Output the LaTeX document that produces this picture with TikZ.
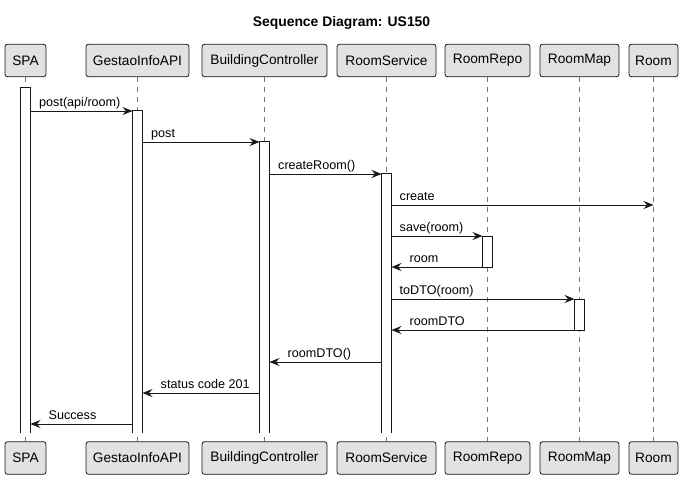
\documentclass[tikz,border=0pt]{standalone}
\usepackage{fontspec}
\setmainfont{Liberation Sans}
\usetikzlibrary{arrows.meta}
\definecolor{boxfill}{HTML}{E2E2E2}
\definecolor{ink}{HTML}{181818}
\tikzset{
  part/.style={draw=ink, fill=boxfill, rounded corners=2.5pt, line width=0.8pt,
    minimum height=32.5pt, inner sep=0pt, font=\fontsize{13.7}{16}\selectfont},
  life/.style={draw=ink!60, line width=0.7pt, dash pattern=on 5pt off 5pt},
  actbar/.style={draw=ink, fill=white, line width=0.9pt, minimum width=10pt, inner sep=0pt},
  openbar/.style={fill=white, minimum width=10pt, inner sep=0pt},
  barside/.style={draw=ink, line width=0.9pt},
  msg/.style={draw=ink, line width=0.9pt, -{Stealth[length=10pt,width=8pt,inset=3.5pt]}},
  lbl/.style={font=\fontsize{12.6}{15}\selectfont, inner sep=0pt}
}
\begin{document}
\begin{tikzpicture}[x=1pt,y=-1pt]
\useasboundingbox (0,0) rectangle (684,479);
\node[font=\bfseries\fontsize{13.9}{16}\selectfont] (title) at (341.5,23) {Sequence Diagram: US150};
% participants top
\node[part, minimum width=41pt]  (tSPA) at (25.5,60.5) {SPA};
\node[part, minimum width=103pt] (tAPI) at (137.5,60.5) {GestaoInfoAPI};
\node[part, minimum width=125pt] (tBC)  at (264.5,60.5) {BuildingController};
\node[part, minimum width=99pt]  (tRS)  at (386.5,60.5) {RoomService};
\node[part, minimum width=85pt]  (tRR)  at (487.5,60.5) {RoomRepo};
\node[part, minimum width=79pt]  (tRM)  at (579.5,60.5) {RoomMap};
\node[part, minimum width=49pt]  (tR)   at (653.5,60.5) {Room};
% participants bottom
\node[part, minimum width=41pt]  (bSPA) at (25.5,458) {SPA};
\node[part, minimum width=103pt] (bAPI) at (137.5,458) {GestaoInfoAPI};
\node[part, minimum width=125pt] (bBC)  at (264.5,458) {BuildingController};
\node[part, minimum width=99pt]  (bRS)  at (386.5,458) {RoomService};
\node[part, minimum width=85pt]  (bRR)  at (487.5,458) {RoomRepo};
\node[part, minimum width=79pt]  (bRM)  at (579.5,458) {RoomMap};
\node[part, minimum width=49pt]  (bR)   at (653.5,458) {Room};
% lifelines
\foreach \p in {SPA,API,BC,RS,RR,RM,R}{\draw[life] (t\p) -- (b\p);}
% activation bars (open at the bottom)
\node[openbar, minimum height=345pt] (aSPA) at (25.5,260.5) {};
\node[openbar, minimum height=322pt] (aAPI) at (137.5,272) {};
\node[openbar, minimum height=291pt] (aBC)  at (264.5,287.5) {};
\node[openbar, minimum height=259pt] (aRS)  at (386.5,303.5) {};
\foreach \a in {aSPA,aAPI,aBC,aRS}{
  \draw[barside] (\a.south west) -- (\a.north west) -- (\a.north east) -- (\a.south east);}
\node[actbar, minimum height=31pt]  (aRR)  at (487.5,252) {};
\node[actbar, minimum height=31pt]  (aRM)  at (579.5,314.5) {};
% message endpoints
\coordinate (m1s) at (30.5,111);  \coordinate (m1e) at (132.5,111);
\coordinate (m2s) at (142.5,142); \coordinate (m2e) at (259.5,142);
\coordinate (m3s) at (269.5,174); \coordinate (m3e) at (381.5,174);
\coordinate (m4s) at (391.5,205); \coordinate (m4e) at (653.5,205);
\coordinate (m5s) at (391.5,236); \coordinate (m5e) at (482.5,236);
\coordinate (m6s) at (482.5,267); \coordinate (m6e) at (391.5,267);
\coordinate (m7s) at (391.5,299); \coordinate (m7e) at (574.5,299);
\coordinate (m8s) at (574.5,330); \coordinate (m8e) at (391.5,330);
\coordinate (m9s) at (381.5,362); \coordinate (m9e) at (269.5,362);
\coordinate (m10s) at (259.5,393); \coordinate (m10e) at (142.5,393);
\coordinate (m11s) at (132.5,424); \coordinate (m11e) at (30.5,424);
% messages
\draw[msg] (m1s) -- (m1e);
\node[lbl, anchor=base west] (l1) at ([xshift=8.5pt,yshift=4.5pt]m1s) {post(api/room)};
\draw[msg] (m2s) -- (m2e);
\node[lbl, anchor=base west] (l2) at ([xshift=8.5pt,yshift=4.5pt]m2s) {post};
\draw[msg] (m3s) -- (m3e);
\node[lbl, anchor=base west] (l3) at ([xshift=8.5pt,yshift=4.5pt]m3s) {createRoom()};
\draw[msg] (m4s) -- (m4e);
\node[lbl, anchor=base west] (l4) at ([xshift=8pt,yshift=4.5pt]m4s) {create};
\draw[msg] (m5s) -- (m5e);
\node[lbl, anchor=base west] (l5) at ([xshift=8pt,yshift=4.5pt]m5s) {save(room)};
\draw[msg] (m6s) -- (m6e);
\node[lbl, anchor=base west] (l6) at ([xshift=18pt,yshift=4.5pt]m6e) {room};
\draw[msg] (m7s) -- (m7e);
\node[lbl, anchor=base west] (l7) at ([xshift=8pt,yshift=4.5pt]m7s) {toDTO(room)};
\draw[msg] (m8s) -- (m8e);
\node[lbl, anchor=base west] (l8) at ([xshift=18pt,yshift=4.5pt]m8e) {roomDTO};
\draw[msg] (m9s) -- (m9e);
\node[lbl, anchor=base west] (l9) at ([xshift=18pt,yshift=4.5pt]m9e) {roomDTO()};
\draw[msg] (m10s) -- (m10e);
\node[lbl, anchor=base west] (l10) at ([xshift=18pt,yshift=4.5pt]m10e) {status code 201};
\draw[msg] (m11s) -- (m11e);
\node[lbl, anchor=base west] (l11) at ([xshift=18pt,yshift=4.5pt]m11e) {Success};
\end{tikzpicture}
\end{document}
